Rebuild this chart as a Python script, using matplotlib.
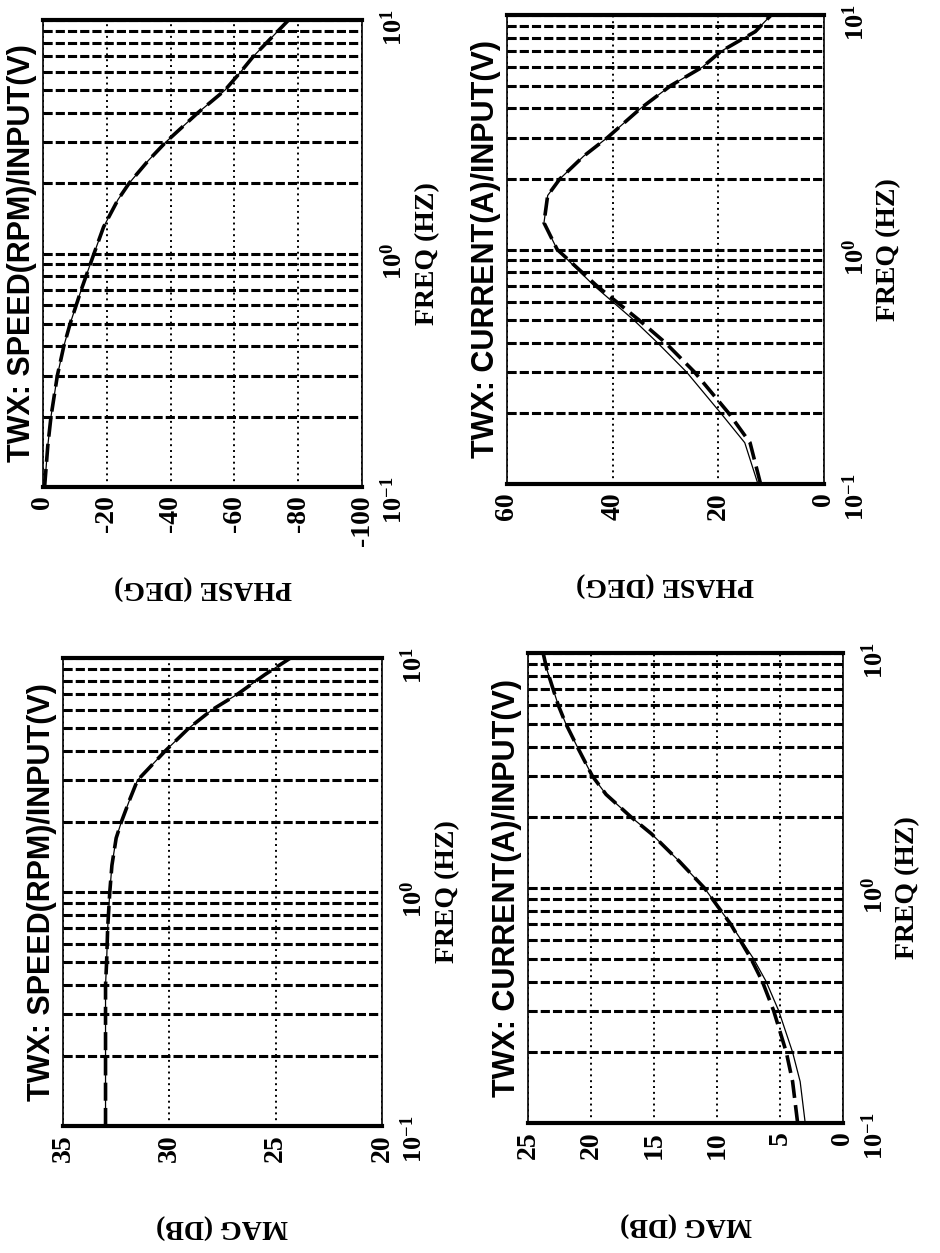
import matplotlib
matplotlib.use("Agg")
import matplotlib.pyplot as plt

plt.rcParams["font.family"] = ["Liberation Serif", "DejaVu Serif"]
plt.rcParams["font.weight"] = "bold"
plt.rcParams["axes.unicode_minus"] = False
plt.rcParams["mathtext.fontset"] = "custom"
plt.rcParams["mathtext.rm"] = "Liberation Serif:bold"
plt.rcParams["mathtext.default"] = "rm"

# frequency points (Hz)
freq = [0.1, 0.15, 0.2, 0.3, 0.4, 0.5, 0.7, 1.0, 1.3, 1.7, 2.0, 2.5, 3.0,
        4.0, 5.0, 6.0, 7.0, 8.5, 10.0]

# speed / input
speed_phase = [-0.5, -1.5, -2.5, -4.5, -6.5, -8.5, -12, -16, -19, -23.5, -27,
               -33, -38.5, -48.5, -57, -62, -66, -72, -77]
speed_phase_model = [-0.5, -1.5, -2.5, -4.5, -6.5, -8.5, -12, -16, -19, -23.5,
                     -27, -33, -38.5, -48.5, -57, -62, -66, -72, -77]
speed_mag = [33.0, 33.0, 33.0, 33.0, 33.0, 32.95, 32.9, 32.8, 32.7, 32.5,
             32.25, 31.85, 31.5, 30.2, 29.1, 28.0, 26.8, 25.5, 24.3]
speed_mag_model = [33.0, 33.0, 33.0, 33.0, 33.0, 32.95, 32.9, 32.8, 32.7, 32.5,
                   32.25, 31.85, 31.5, 30.2, 29.1, 28.0, 26.8, 25.5, 24.3]

# current / input
current_phase = [12, 14, 18, 24.5, 30, 35, 43, 50.5, 53, 52.3, 50, 45.5, 41,
                 34.7, 29, 23, 19.5, 13, 10]
current_phase_model = [12.5, 15, 19.5, 26, 31.5, 36, 43.5, 50.5, 53, 52.3, 50,
                       45.5, 41, 34.7, 29, 23, 19.5, 13, 10]
current_mag = [3.6, 4.0, 4.5, 5.5, 6.4, 7.3, 8.9, 11.0, 13.0, 15.2, 16.8, 18.8,
               19.9, 21.1, 22.0, 22.6, 23.0, 23.5, 23.8]
current_mag_model = [3.0, 3.4, 4.0, 5.1, 6.1, 7.1, 8.9, 11.0, 13.0, 15.2, 16.8,
                     18.8, 19.9, 21.1, 22.0, 22.6, 23.0, 23.5, 23.8]

phase_speed_ticks = [0, -20, -40, -60, -80, -100]
phase_current_ticks = [60, 40, 20, 0]
mag_speed_ticks = [35, 30, 25, 20]
mag_current_ticks = [25, 20, 15, 10, 5, 0]

W, H = 940, 1253
fig = plt.figure(figsize=(W / 100, H / 100), dpi=100)


def rect(x0, y0, x1, y1):
    # pixel box -> figure fraction
    return [x0 / W, 1 - y1 / H, (x1 - x0) / W, (y1 - y0) / H]


def panel(box, ticks, title, vlabel, meas, model):
    ax = fig.add_axes(rect(*box))
    ax.plot(model, freq, color="black", lw=0.9)
    ax.plot(meas, freq, color="black", lw=2.6, dashes=(5, 2))
    ax.set_yscale("log")
    ax.set_ylim(0.1, 10)
    ax.set_xlim(ticks[0], ticks[-1])
    ax.set_xticks(ticks)
    ax.set_xticklabels([str(t) for t in ticks])
    ax.set_yticks([0.1, 1, 10])
    ax.yaxis.tick_right()
    ax.tick_params(axis="x", length=0, labelrotation=90, labelsize=20, pad=6)
    ax.tick_params(axis="y", which="both", length=0, labelrotation=90,
                   labelsize=19, pad=13)
    ax.grid(axis="y", which="both", color="black", lw=2.2, ls=(0, (3, 1)))
    ax.grid(axis="x", which="major", color="black", lw=1.4, ls=(0, (1, 2)))
    ax.set_axisbelow(True)
    for s in ["top", "bottom"]:
        ax.spines[s].set_linewidth(3)
    for s in ["left", "right"]:
        ax.spines[s].set_linewidth(1.2)
    ax.text(-0.02, 0.5, title, transform=ax.transAxes, rotation=90,
            ha="right", va="center", fontsize=22,
            family=["Liberation Sans"], fontweight="bold")
    ax.text(0.5, -0.215, vlabel, transform=ax.transAxes, rotation=180,
            ha="center", va="center", fontsize=20)
    ax.text(1.205, 0.5, "FREQ (HZ)", transform=ax.transAxes, rotation=90,
            ha="center", va="center", fontsize=20)
    return ax


panel((43, 20, 362, 487), phase_speed_ticks, "TWX: SPEED(RPM)/INPUT(V)",
      "PHASE (DEG)", speed_phase, speed_phase_model)
panel((507, 15, 824, 484), phase_current_ticks, "TWX: CURRENT(A)/INPUT(V)",
      "PHASE (DEG)", current_phase, current_phase_model)
panel((63, 658, 382, 1126), mag_speed_ticks, "TWX: SPEED(RPM)/INPUT(V)",
      "MAG (DB)", speed_mag, speed_mag_model)
panel((528, 653, 843, 1123), mag_current_ticks, "TWX: CURRENT(A)/INPUT(V)",
      "MAG (DB)", current_mag, current_mag_model)

fig.savefig("out.png", dpi=100, facecolor="white")
